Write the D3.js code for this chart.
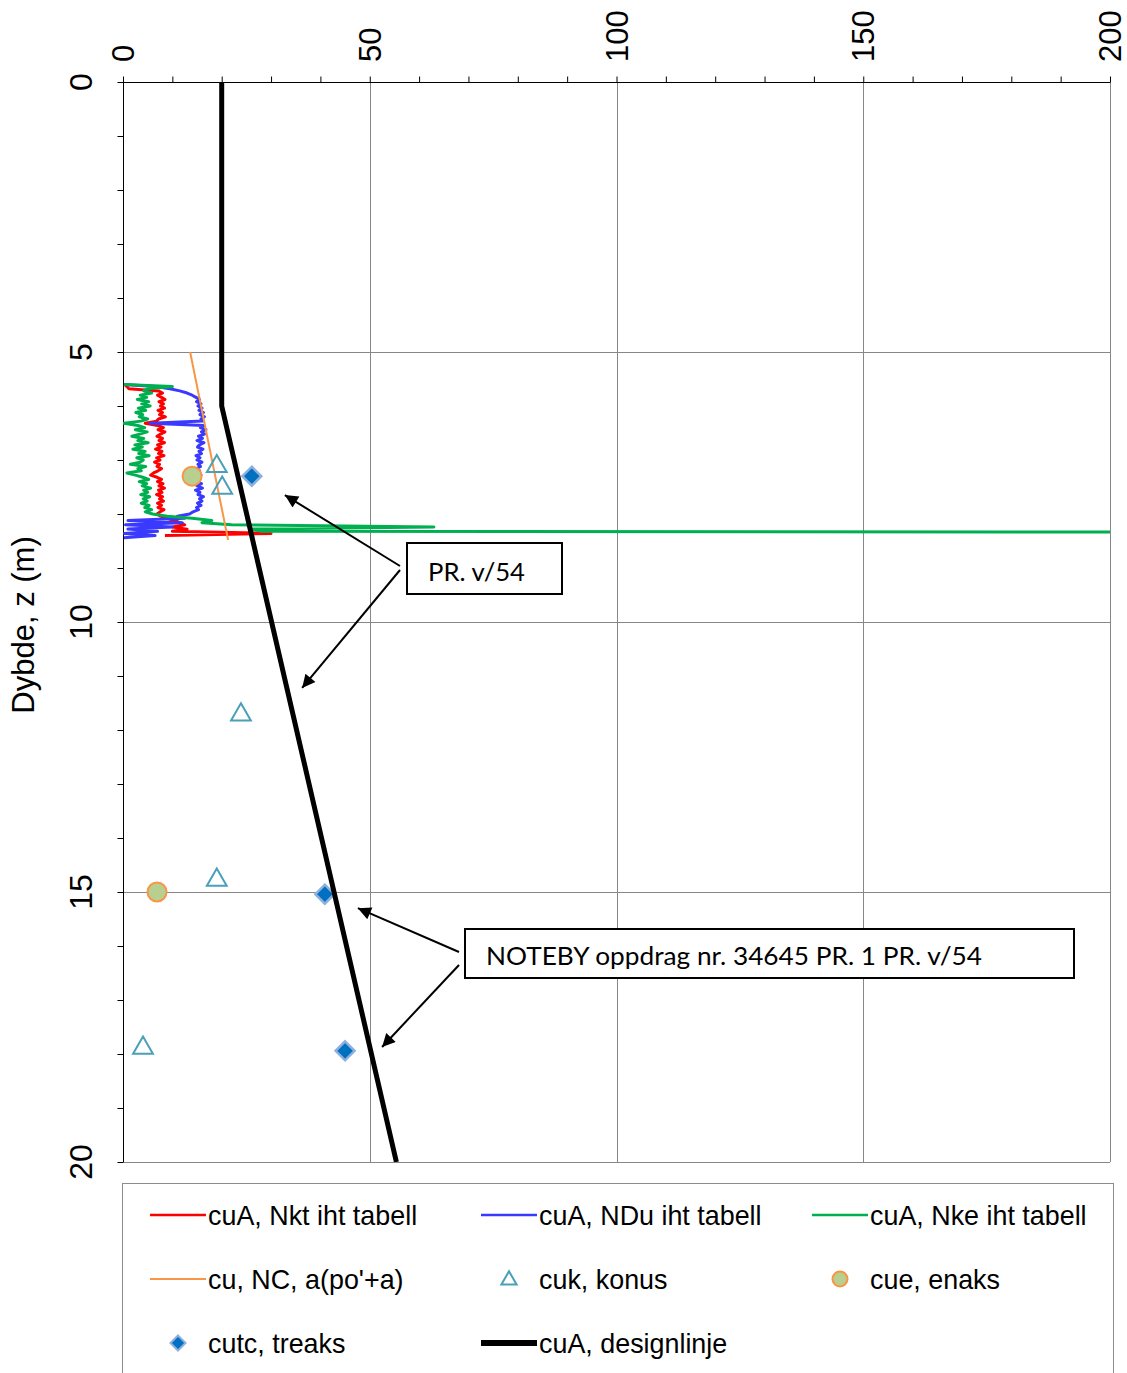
<!DOCTYPE html>
<html>
<head>
<meta charset="utf-8">
<script src="https://cdn.jsdelivr.net/npm/d3@7/dist/d3.min.js"></script>
<style>
  body { margin: 0; background: #fff; }
  svg { display: block; font-family: "Liberation Sans", Arial, sans-serif; }
</style>
</head>
<body>
<svg id="chart" width="1127" height="1373"></svg>
<script>
// CPT sounding depths (m)
const depthCPT = [5.60,5.64,5.68,5.72,5.76,5.80,5.84,5.88,5.92,5.96,
  6.00,6.04,6.08,6.12,6.16,6.20,6.24,6.28,6.32,6.36,
  6.40,6.44,6.48,6.52,6.56,6.60,6.64,6.68,6.72,6.76,
  6.80,6.84,6.88,6.92,6.96,7.00,7.04,7.08,7.12,7.16,
  7.20,7.24,7.28,7.32,7.36,7.40,7.44,7.48,7.52,7.56,
  7.60,7.64,7.68,7.72,7.76,7.80,7.84,7.88,7.92,7.96,
  8.00,8.04,8.08,8.12,8.16,8.20,8.24,8.28,8.32,8.36,
  8.40,8.44];

// cuA from Nkt (kPa)
const cuNkt = [0.3,0.8,1.2,7.2,8.0,7.0,7.8,8.5,7.3,8.2,
  7.6,8.4,7.1,8.0,7.4,8.6,7.2,6.8,4.5,7.0,
  8.2,7.1,8.5,7.6,6.9,8.0,7.3,8.4,7.0,7.7,
  6.6,7.9,7.2,8.3,6.8,7.5,6.4,7.4,6.9,7.8,
  7.1,6.2,5.6,6.9,7.8,7.0,8.1,7.3,8.4,7.2,
  7.9,6.8,8.0,7.4,8.2,7.0,7.8,7.1,8.3,7.5,
  6.9,7.6,8.8,10.5,11.5,12.5,10.0,13.0,10.0,30.0,
  8.5];

// cuA from NDu (kPa)
const cuNDu = [0.3,6.5,9.5,11.5,13.0,14.0,14.8,15.5,14.9,15.8,
  15.2,16.0,15.4,16.3,15.6,16.5,15.8,16.2,5.5,16.4,
  15.7,16.8,15.9,16.5,15.3,16.1,15.0,16.4,15.5,15.1,
  16.2,15.4,15.9,14.8,15.6,15.0,16.0,15.2,15.7,14.9,
  15.5,15.1,15.8,14.6,15.4,14.8,15.9,15.0,16.1,14.7,
  15.6,15.2,16.3,15.5,16.0,15.1,15.8,14.9,15.3,14.2,
  13.5,11.0,12.5,1.0,12.0,0.5,10.0,1.0,7.0,0.3,
  6.5,0.2];

// cuA from Nke (kPa)
const cuNke = [0.2,10.0,5.0,4.2,5.8,3.5,4.8,2.9,5.2,3.8,
  5.5,3.1,4.6,2.6,4.0,3.3,5.0,3.6,0.2,3.0,
  4.4,2.5,4.9,3.4,1.8,4.2,3.0,5.1,2.4,3.9,
  2.0,4.5,3.2,5.3,2.8,4.1,3.5,1.5,4.6,3.0,
  3.7,0.8,2.5,4.0,5.2,3.3,4.8,3.9,5.6,4.2,
  5.0,3.6,5.4,4.1,4.9,3.7,5.3,4.4,5.8,4.5,
  6.0,9.0,14.0,18.0,16.0,22.0,63.0,26.0,28.0,500];

// cu, NC, a(po'+a)
const ncDepth = [5.0, 8.48];
const ncCu = [13.6, 21.3];

// cuk, konus
const konusDepth = [7.1, 7.5, 11.7, 14.76, 17.87];
const konusCu = [19.0, 20.1, 23.9, 19.0, 4.05];

// cue, enaks
const enaksDepth = [7.3, 15.0];
const enaksCu = [14.0, 6.9];

// cutc, treaks
const treaksDepth = [7.3, 15.04, 17.94];
const treaksCu = [26.1, 40.9, 45.0];

// cuA, designlinje
const designDepth = [0, 6, 20];
const designCu = [20, 20, 55.4];

const xTicks = [0, 50, 100, 150, 200];
const yTicks = [0, 5, 10, 15, 20];

const seriesNames = ["cuA, Nkt iht tabell", "cuA, NDu iht tabell", "cuA, Nke iht tabell",
  "cu, NC, a(po'+a)", "cuk, konus", "cue, enaks", "cutc, treaks", "cuA, designlinje"];

const col = {
  red: "#ff0000", blue: "#3a3aff", green: "#00b050", orange: "#f79646",
  teal: "#4aa0b8", circleFill: "#b8cf90", diamond: "#0070c0", diamondEdge: "#8eb0de"
};

const svg = d3.select("#chart");
const L = 123, R = 1110, T = 82, B = 1162;

const x = d3.scaleLinear().domain([0, 200]).range([L, R]);
const y = d3.scaleLinear().domain([0, 20]).range([T, B]);

svg.append("defs").append("clipPath").attr("id", "plotClip")
  .append("rect").attr("x", L).attr("y", T).attr("width", R - L).attr("height", B - T);

// gridlines
const grid = svg.append("g").attr("stroke", "#878787").attr("stroke-width", 1);
[50, 100, 150].forEach(v => grid.append("line")
  .attr("x1", Math.round(x(v)) + 0.5).attr("x2", Math.round(x(v)) + 0.5)
  .attr("y1", T).attr("y2", B));
[5, 10, 15].forEach(v => grid.append("line")
  .attr("x1", L).attr("x2", R)
  .attr("y1", Math.round(y(v)) + 0.5).attr("y2", Math.round(y(v)) + 0.5));
// right and bottom frame
grid.append("line").attr("x1", R + 0.5).attr("x2", R + 0.5).attr("y1", T).attr("y2", B);
grid.append("line").attr("x1", L).attr("x2", R).attr("y1", B + 0.5).attr("y2", B + 0.5);

// axes
const xAxis = d3.axisTop(x).tickValues(d3.range(0, 201, 10)).tickSize(6).tickFormat("");
svg.append("g").attr("transform", `translate(0,${T + 0.5})`).call(xAxis)
  .call(g => g.select(".domain").attr("stroke", "#000").attr("d", `M${L},0H${R}`))
  .call(g => g.selectAll(".tick line").attr("stroke", "#000"));

const yAxis = d3.axisLeft(y).tickValues(d3.range(0, 21, 1)).tickSize(6).tickFormat("");
svg.append("g").attr("transform", `translate(${L + 0.5},0)`).call(yAxis)
  .call(g => g.select(".domain").attr("stroke", "#000").attr("d", `M0,${T}V${B}`))
  .call(g => g.selectAll(".tick line").attr("stroke", "#000"));

// rotated tick labels
svg.append("g").selectAll("text").data(xTicks).join("text")
  .attr("transform", d => `translate(${x(d) + 11},62) rotate(-90)`)
  .attr("font-size", 31).attr("text-anchor", "start").attr("fill", "#000")
  .text(d => d);

svg.append("g").selectAll("text").data(yTicks).join("text")
  .attr("transform", d => `translate(92,${y(d)}) rotate(-90)`)
  .attr("font-size", 32).attr("text-anchor", "middle").attr("fill", "#000")
  .text(d => d);

svg.append("text")
  .attr("transform", `translate(34,625) rotate(-90)`)
  .attr("font-size", 31).attr("text-anchor", "middle").attr("fill", "#000")
  .text("Dybde, z (m)");

// data layer
const plot = svg.append("g").attr("clip-path", "url(#plotClip)");
const line = d3.line().x(d => x(d[0])).y(d => y(d[1]));
const pairs = (vals, depths) => vals.map((v, i) => [v, depths[i]]);

const cptSeries = [
  { vals: cuNkt, color: col.red },
  { vals: cuNDu, color: col.blue },
  { vals: cuNke, color: col.green }
];
cptSeries.forEach(s => plot.append("path")
  .attr("d", line(pairs(s.vals, depthCPT)))
  .attr("fill", "none").attr("stroke", s.color).attr("stroke-width", 3)
  .attr("stroke-linejoin", "round"));

plot.append("path").attr("d", line(pairs(ncCu, ncDepth)))
  .attr("fill", "none").attr("stroke", col.orange).attr("stroke-width", 2);

const tri = d3.symbol().type(d3.symbolTriangle).size(170);
const diamondPath = s => `M0,${-s}L${s},0L0,${s}L${-s},0Z`;

function drawTriangle(g, cx, cy) {
  g.append("path").attr("d", tri).attr("transform", `translate(${cx},${cy + 1})`)
    .attr("fill", "none").attr("stroke", col.teal).attr("stroke-width", 2);
}
function drawCircle(g, cx, cy) {
  g.append("circle").attr("cx", cx).attr("cy", cy).attr("r", 9.5)
    .attr("fill", col.circleFill).attr("stroke", col.orange).attr("stroke-width", 2);
}
function drawDiamond(g, cx, cy) {
  g.append("path").attr("d", diamondPath(9.5)).attr("transform", `translate(${cx},${cy})`)
    .attr("fill", col.diamond).attr("stroke", col.diamondEdge).attr("stroke-width", 2.5);
}

konusCu.forEach((v, i) => drawTriangle(plot, x(v), y(konusDepth[i])));
enaksCu.forEach((v, i) => drawCircle(plot, x(v), y(enaksDepth[i])));
treaksCu.forEach((v, i) => drawDiamond(plot, x(v), y(treaksDepth[i])));

plot.append("path").attr("d", line(pairs(designCu, designDepth)))
  .attr("fill", "none").attr("stroke", "#000").attr("stroke-width", 5);

// annotations
svg.append("defs").append("marker").attr("id", "arrowHead")
  .attr("viewBox", "0 0 10 10").attr("refX", 10).attr("refY", 5)
  .attr("markerWidth", 18).attr("markerHeight", 13).attr("markerUnits", "userSpaceOnUse")
  .attr("orient", "auto")
  .append("path").attr("d", "M0,0L10,5L0,10Z").attr("fill", "#000");

function callout(box, label, textLen, arrows) {
  const g = svg.append("g");
  arrows.forEach(a => g.append("line")
    .attr("x1", a.from[0]).attr("y1", a.from[1])
    .attr("x2", x(a.to[0])).attr("y2", y(a.to[1]))
    .attr("stroke", "#000").attr("stroke-width", 2)
    .attr("marker-end", "url(#arrowHead)"));
  g.append("rect").attr("x", box.x).attr("y", box.y).attr("width", box.w).attr("height", box.h)
    .attr("fill", "#fff").attr("stroke", "#000").attr("stroke-width", 2);
  g.append("text").attr("x", box.x + 21).attr("y", box.y + box.h - 13)
    .attr("font-family", "Lato, 'Open Sans', sans-serif").attr("font-size", 25)
    .attr("textLength", textLen).attr("lengthAdjust", "spacingAndGlyphs")
    .attr("fill", "#000").text(label);
}

callout({ x: 407, y: 543, w: 155, h: 51 }, "PR. v/54", 97, [
  { from: [400, 566], to: [32.8, 7.65] },
  { from: [400, 570], to: [36.3, 11.22] }
]);
callout({ x: 465, y: 929, w: 609, h: 49 }, "NOTEBY oppdrag nr. 34645 PR. 1 PR. v/54", 496, [
  { from: [459, 952], to: [47.6, 15.3] },
  { from: [459, 965], to: [52.5, 17.87] }
]);

// legend
const leg = svg.append("g");
leg.append("rect").attr("x", 122.5).attr("y", 1183.5).attr("width", 991).attr("height", 220)
  .attr("fill", "#fff").attr("stroke", "#8c8c8c").attr("stroke-width", 1);

const colX = [150, 481, 812];
const rowY = [1215, 1279, 1343];
const legendItems = [
  { kind: "line", color: col.red, w: 2.6 },
  { kind: "line", color: col.blue, w: 2.6 },
  { kind: "line", color: col.green, w: 2.6 },
  { kind: "line", color: col.orange, w: 2 },
  { kind: "tri" },
  { kind: "circle" },
  { kind: "diamond" },
  { kind: "line", color: "#000", w: 6 }
];
legendItems.forEach((it, i) => {
  const cx = colX[i % 3], cy = rowY[Math.floor(i / 3)];
  if (it.kind === "line") {
    leg.append("line").attr("x1", cx).attr("x2", cx + 56).attr("y1", cy).attr("y2", cy)
      .attr("stroke", it.color).attr("stroke-width", it.w);
  } else if (it.kind === "tri") {
    leg.append("path").attr("d", d3.symbol().type(d3.symbolTriangle).size(100))
      .attr("transform", `translate(${cx + 28},${cy + 1})`)
      .attr("fill", "none").attr("stroke", col.teal).attr("stroke-width", 2);
  } else if (it.kind === "circle") {
    leg.append("circle").attr("cx", cx + 28).attr("cy", cy).attr("r", 7.5)
      .attr("fill", col.circleFill).attr("stroke", col.orange).attr("stroke-width", 2);
  } else {
    leg.append("path").attr("d", diamondPath(7.5))
      .attr("transform", `translate(${cx + 28},${cy})`)
      .attr("fill", col.diamond).attr("stroke", col.diamondEdge).attr("stroke-width", 2);
  }
  leg.append("text")
    .attr("transform", `translate(${cx + 58},${cy + 10}) scale(0.96,1)`)
    .attr("font-size", 28).attr("fill", "#000")
    .text(seriesNames[i]);
});
</script>
</body>
</html>
